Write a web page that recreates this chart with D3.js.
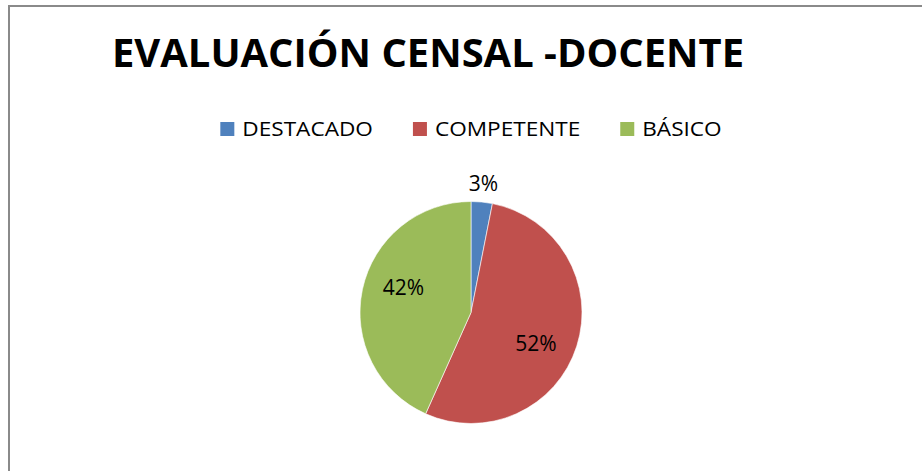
<!DOCTYPE html>
<html><head><meta charset="utf-8">
<script src="https://cdn.jsdelivr.net/npm/d3@7"></script>
<style>html,body{margin:0;padding:0;background:#fff;}svg{display:block;}</style>
</head><body>
<svg id="chart" width="922" height="471"></svg>
<script>
const title = "EVALUACIÓN CENSAL -DOCENTE";
const categories = ["DESTACADO", "COMPETENTE", "BÁSICO"];
const values = [3, 52, 42];
const labels = ["3%", "52%", "42%"];
const colors = ["#4F81BD", "#C0504D", "#9BBB59"];

const W = 922, H = 471;
const svg = d3.select("#chart");
const font = "'Open Sans', 'Liberation Sans', sans-serif";

// chart area border (top and left visible)
svg.append("rect").attr("x", 9).attr("y", 6).attr("width", W + 20).attr("height", H + 20)
  .attr("fill", "#fff").attr("stroke", "#8a8a8a").attr("stroke-width", 2);

// title
svg.append("text").attr("x", 112).attr("y", 67)
  .attr("font-family", font).attr("font-weight", 700).attr("font-size", 39)
  .attr("fill", "#000")
  .attr("textLength", 632).attr("lengthAdjust", "spacingAndGlyphs")
  .text(title);

// pie
const cx = 471, cy = 312.5, r = 111;
const pie = d3.pie().sort(null).value(d => d)(values);
const arc = d3.arc().innerRadius(0).outerRadius(r);
const g = svg.append("g").attr("transform", `translate(${cx},${cy})`);
g.selectAll("path").data(pie).join("path")
  .attr("d", arc).attr("fill", (d, i) => colors[i])
  .attr("stroke", "#fff").attr("stroke-width", 0.6);

// labels
const labelOffset = 8 * Math.PI / 180;
g.selectAll("text.lbl").data(pie).join("text").attr("class", "lbl")
  .each(function (d, i) {
    const mid = (d.startAngle + d.endAngle) / 2;
    const share = (d.endAngle - d.startAngle) / (2 * Math.PI);
    let a, rad;
    if (share < 0.06) { a = mid; rad = r + 18; }
    else { a = mid + labelOffset; rad = 72; }
    d3.select(this).attr("x", rad * Math.sin(a)).attr("y", -rad * Math.cos(a));
  })
  .attr("dy", "0.35em").attr("text-anchor", "middle")
  .attr("font-family", font).attr("font-size", 21).attr("fill", "#000")
  .text((d, i) => labels[i]);

// legend
const legend = svg.append("g");
const sq = 14, gapSq = 8, gapItem = 40, stretch = 1.13, legY = 136;
let x = 0;
categories.forEach((c, i) => {
  const it = legend.append("g");
  it.append("rect").attr("x", x).attr("y", legY - sq).attr("width", sq).attr("height", sq)
    .attr("fill", colors[i]);
  const t = it.append("text").attr("x", x + sq + gapSq).attr("y", legY)
    .attr("font-family", font).attr("font-size", 20).attr("fill", "#000").text(c);
  const w = t.node().getComputedTextLength() * stretch;
  t.attr("textLength", w).attr("lengthAdjust", "spacingAndGlyphs");
  x += sq + gapSq + w + gapItem;
});
const totalW = x - gapItem;
legend.attr("transform", `translate(${cx - totalW / 2},0)`);
</script>
</body></html>
